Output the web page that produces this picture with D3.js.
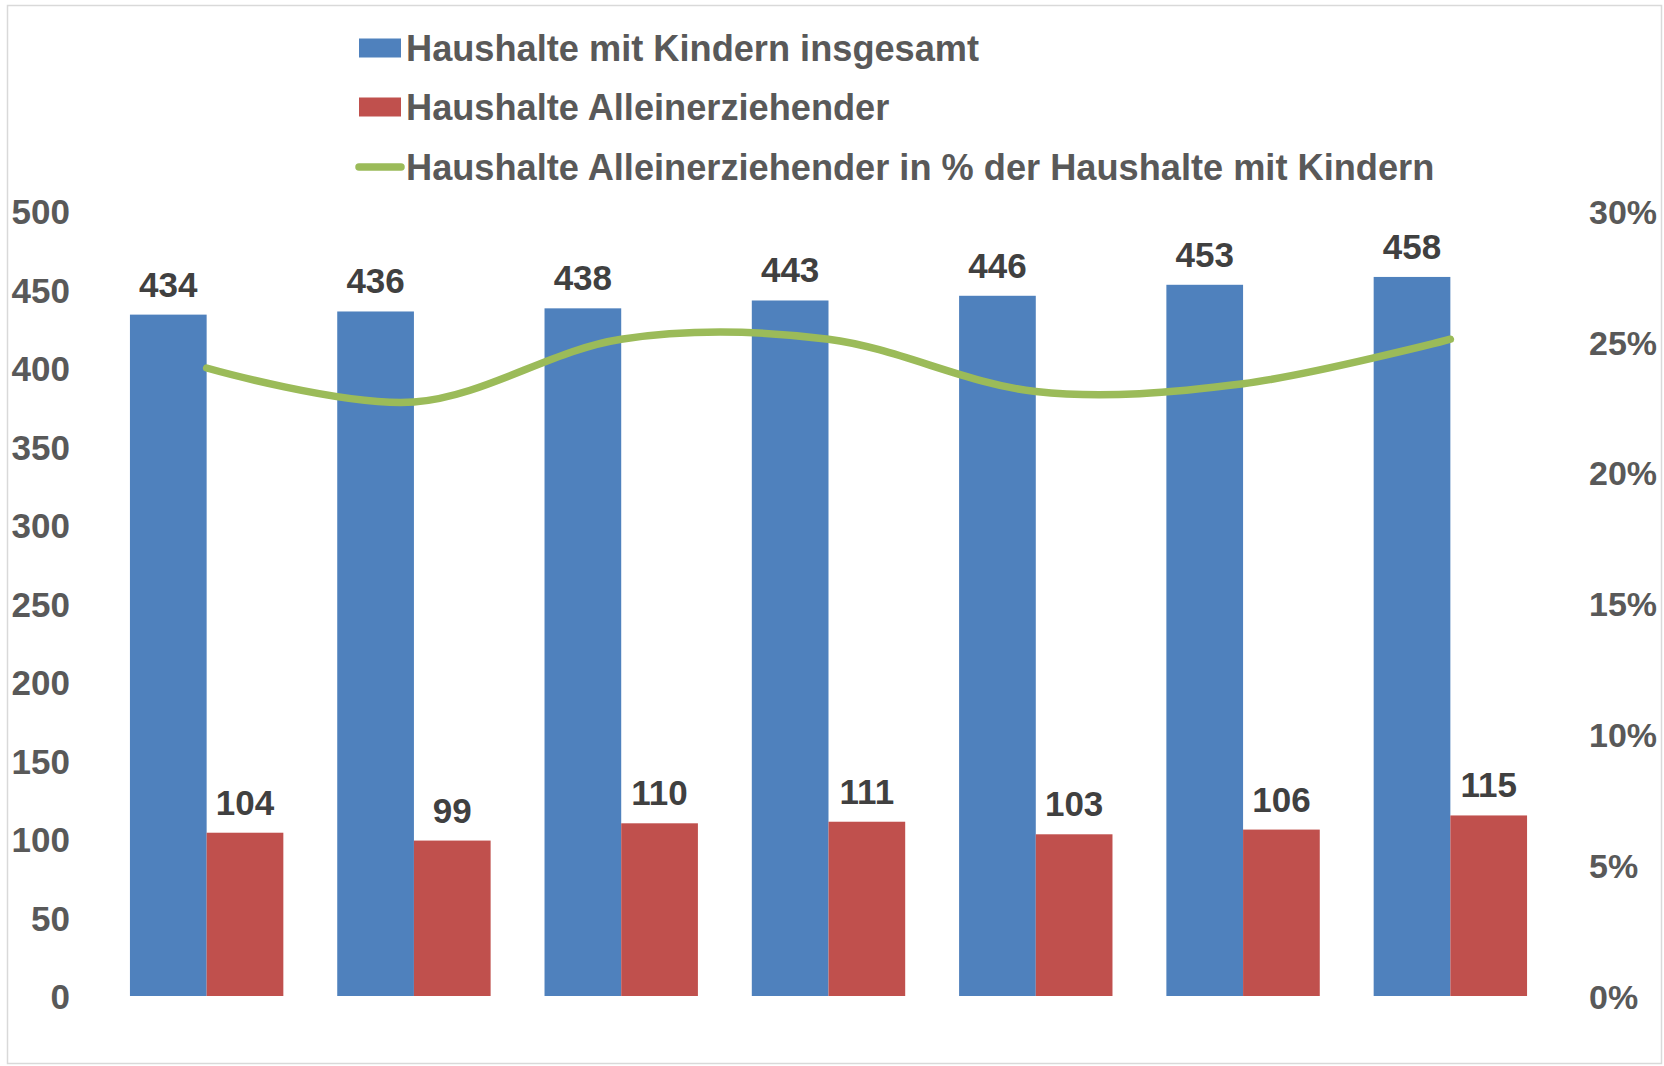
<!DOCTYPE html>
<html>
<head>
<meta charset="utf-8">
<script src="https://cdn.jsdelivr.net/npm/d3@7"></script>
<style>
  body { margin: 0; background: #fff; }
  text { font-family: "Liberation Sans", Arial, sans-serif; font-weight: bold; }
</style>
</head>
<body>
<div id="chart"></div>
<script>
const categories = ["1", "2", "3", "4", "5", "6", "7"];
const totalHouseholds = [434, 436, 438, 443, 446, 453, 458];
const singleParent = [104, 99, 110, 111, 103, 106, 115];
const sharePct = [24.0, 22.7, 25.1, 25.1, 23.1, 23.4, 25.1];
const leftTicks = [0, 50, 100, 150, 200, 250, 300, 350, 400, 450, 500];
const rightTicks = [0, 5, 10, 15, 20, 25, 30];
const legendLabels = [
  "Haushalte mit Kindern insgesamt",
  "Haushalte Alleinerziehender",
  "Haushalte Alleinerziehender in % der Haushalte mit Kindern"
];

const width = 1664, height = 1066;
const margin = {top: 211, bottom: 70, left: 103, right: 110};
const colors = ["#4F81BD", "#C0504D", "#9BBB59"];

const svg = d3.select("#chart").append("svg")
  .attr("width", width)
  .attr("height", height);

// chart frame
svg.append("rect")
  .attr("x", 7.5).attr("y", 5.5)
  .attr("width", 1654).attr("height", 1058)
  .attr("fill", "none").attr("stroke", "#D9D9D9").attr("stroke-width", 1.5);

const x = d3.scaleBand().domain(categories)
  .range([margin.left, width - margin.right])
  .paddingInner(0.26).paddingOuter(0.13);
const xSub = d3.scaleBand().domain([0, 1]).range([0, x.bandwidth()]);

const y = d3.scaleLinear().domain([0, 500]).range([height - margin.bottom, margin.top]);
const y2 = d3.scaleLinear().domain([0, 30]).range([height - margin.bottom, margin.top]);

// left axis
const yAxis = svg.append("g")
  .attr("transform", `translate(70,0)`)
  .call(d3.axisLeft(y).tickValues(leftTicks).tickSize(0).tickPadding(0));
yAxis.select(".domain").remove();
yAxis.selectAll("text")
  .attr("font-size", 35).attr("fill", "#595959")
  .attr("font-family", null).attr("dy", "0.36em");

// right axis
const yAxis2 = svg.append("g")
  .attr("transform", `translate(1589,0)`)
  .call(d3.axisRight(y2).tickValues(rightTicks).tickSize(0).tickPadding(0)
    .tickFormat(d => d + "%"));
yAxis2.select(".domain").remove();
yAxis2.selectAll("text")
  .attr("font-size", 34).attr("fill", "#595959")
  .attr("font-family", null).attr("dy", "0.36em");

const series = [totalHouseholds, singleParent];

series.forEach((vals, s) => {
  svg.append("g").selectAll("rect")
    .data(vals)
    .join("rect")
    .attr("x", (d, i) => x(categories[i]) + xSub(s))
    .attr("y", d => y(d))
    .attr("width", xSub.bandwidth())
    .attr("height", d => y(0) - y(d))
    .attr("fill", colors[s]);

  svg.append("g").selectAll("text")
    .data(vals)
    .join("text")
    .attr("x", (d, i) => x(categories[i]) + xSub(s) + xSub.bandwidth() / 2)
    .attr("y", d => y(d) - 18)
    .attr("text-anchor", "middle")
    .attr("font-size", 35)
    .attr("fill", "#404040")
    .text(d => d);
});

// smoothed percentage line
const line = d3.line()
  .x((d, i) => x(categories[i]) + x.bandwidth() / 2)
  .y(d => y2(d))
  .curve(d3.curveCardinal.tension(0));

svg.append("path")
  .datum(sharePct)
  .attr("d", line)
  .attr("fill", "none")
  .attr("stroke", colors[2])
  .attr("stroke-width", 7.5)
  .attr("stroke-linecap", "round");

// legend
const legend = svg.append("g");
const rowY = [48, 107, 167];
legendLabels.forEach((label, i) => {
  if (i < 2) {
    legend.append("rect")
      .attr("x", 359).attr("y", rowY[i] - 9.5)
      .attr("width", 42).attr("height", 19)
      .attr("fill", colors[i]);
  } else {
    legend.append("line")
      .attr("x1", 359).attr("x2", 401)
      .attr("y1", rowY[i]).attr("y2", rowY[i])
      .attr("stroke", colors[i]).attr("stroke-width", 7.5)
      .attr("stroke-linecap", "round");
  }
  legend.append("text")
    .attr("x", 406).attr("y", rowY[i])
    .attr("dy", "0.36em")
    .attr("font-size", 36.2)
    .attr("fill", "#595959")
    .text(label);
});
</script>
</body>
</html>
